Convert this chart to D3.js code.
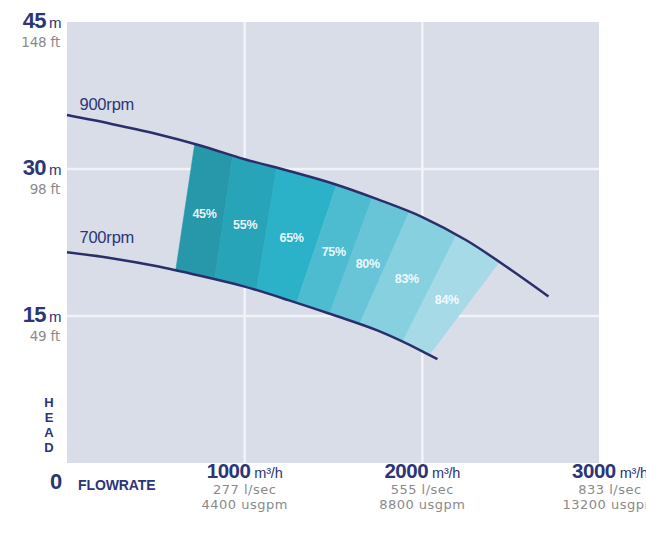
<!DOCTYPE html>
<html><head><meta charset="utf-8">
<script src="https://cdn.jsdelivr.net/npm/d3@7"></script>
<style>
html,body{margin:0;padding:0;background:#fff;}
svg{display:block;}
text{font-family:"Liberation Sans",Arial,sans-serif;}
text.sub{font-family:"DejaVu Sans","Liberation Sans",sans-serif;}
</style></head>
<body>
<svg id="chart" width="646" height="536"></svg>
<script>
// ---- data ----
const flows900 = [0, 250, 500, 750, 1000, 1250, 1500, 1750, 2000, 2250, 2500, 2710];
const heads900 = [35.5, 34.6, 33.6, 32.4, 31.0, 29.8, 28.5, 26.9, 25.1, 22.7, 19.7, 17.0];
const flows700 = [0, 250, 500, 750, 1000, 1250, 1500, 1750, 2000, 2085];
const heads700 = [21.5, 20.9, 20.1, 19.1, 18.0, 16.6, 15.1, 13.5, 11.4, 10.6];
const curveNames = ["900rpm", "700rpm"];
// efficiency zone boundaries: flow where each boundary meets the 900rpm (top) and 700rpm (bottom) curve
const zoneTopFlow = [719, 933, 1180, 1517, 1719, 1927, 2191, 2433];
const zoneBottomFlow = [612, 831, 1067, 1292, 1478, 1646, 1888, 2039];
const zoneLabels = ["45%", "55%", "65%", "75%", "80%", "83%", "84%"];
const zoneColors = ["#2797aa", "#28a4b9", "#2bb1c8", "#4dbcd1", "#68c5d7", "#86d0df", "#a5dae6"];
const headTicks = [45, 30, 15];
const headFeet = ["148 ft", "98 ft", "49 ft"];
const flowTicks = [1000, 2000, 3000];
const flowLps = ["277 l/sec", "555 l/sec", "833 l/sec"];
const flowGpm = ["4400 usgpm", "8800 usgpm", "13200 usgpm"];

// ---- layout ----
const svg = d3.select("#chart");
const x = d3.scaleLinear().domain([0, 3000]).range([67, 600]);
const y = d3.scaleLinear().domain([0, 45]).range([463, 22]);
const navy = "#2b3577", grey = "#8a8a8a", lineCol = "#2a2f6b";

svg.append("rect").attr("x", x(0)).attr("y", y(45)).attr("width", x(3000) - x(0) - 1)
  .attr("height", y(0) - y(45)).attr("fill", "#d9dde8");

// gridlines
svg.append("g").selectAll("line").data([15, 30]).join("line")
  .attr("x1", x(0)).attr("x2", x(3000) - 1).attr("y1", d => y(d)).attr("y2", d => y(d))
  .attr("stroke", "#f1f3f7").attr("stroke-width", 2.5);
svg.append("g").selectAll("line").data([1000, 2000]).join("line")
  .attr("x1", d => x(d)).attr("x2", d => x(d)).attr("y1", y(45)).attr("y2", y(0))
  .attr("stroke", "#f1f3f7").attr("stroke-width", 2.5);

// interpolators along curves
const h900 = d3.scaleLinear().domain(flows900).range(heads900);
const h700 = d3.scaleLinear().domain(flows700).range(heads700);

function sampleRange(a, b, n) { return d3.range(n + 1).map(i => a + (b - a) * i / n); }

// efficiency zones
const zones = zoneLabels.map((lab, i) => {
  const top = sampleRange(zoneTopFlow[i], zoneTopFlow[i + 1], 12).map(f => [x(f), y(h900(f))]);
  const bot = sampleRange(zoneBottomFlow[i + 1], zoneBottomFlow[i], 12).map(f => [x(f), y(h700(f))]);
  return { lab, color: zoneColors[i], pts: top.concat(bot), i };
});
svg.append("g").selectAll("path").data(zones).join("path")
  .attr("d", d => "M" + d.pts.map(p => p.join(",")).join("L") + "Z")
  .attr("fill", d => d.color).attr("stroke", d => d.color).attr("stroke-width", 0.6);

svg.append("g").selectAll("text").data(zones).join("text")
  .attr("x", d => {
    const ft = (zoneTopFlow[d.i] + zoneTopFlow[d.i + 1]) / 2, fb = (zoneBottomFlow[d.i] + zoneBottomFlow[d.i + 1]) / 2;
    return (x(ft) + x(fb)) / 2;
  })
  .attr("y", d => {
    const ft = (zoneTopFlow[d.i] + zoneTopFlow[d.i + 1]) / 2, fb = (zoneBottomFlow[d.i] + zoneBottomFlow[d.i + 1]) / 2;
    return (y(h900(ft)) + y(h700(fb))) / 2 + 6;
  })
  .attr("text-anchor", "middle").attr("fill", "#ffffff").attr("fill-opacity", 0.9)
  .attr("font-size", 12.5).attr("font-weight", "bold").attr("letter-spacing", -0.3)
  .text(d => d.lab);

// pump curves
const line = d3.line().x(d => x(d[0])).y(d => y(d[1])).curve(d3.curveMonotoneX);
svg.append("path").datum(flows900.map((f, i) => [f, heads900[i]])).attr("d", line)
  .attr("fill", "none").attr("stroke", lineCol).attr("stroke-width", 2.5);
svg.append("path").datum(flows700.map((f, i) => [f, heads700[i]])).attr("d", line)
  .attr("fill", "none").attr("stroke", lineCol).attr("stroke-width", 2.5);

// curve names
svg.append("text").attr("x", x(70)).attr("y", y(h900(0)) - 5).attr("fill", navy)
  .attr("font-size", 16.5).attr("letter-spacing", -0.2).text(curveNames[0]);
svg.append("text").attr("x", x(70)).attr("y", y(h700(0)) - 9).attr("fill", navy)
  .attr("font-size", 16.5).attr("letter-spacing", -0.2).text(curveNames[1]);

// y axis labels
const yl = svg.append("g");
headTicks.forEach((t, i) => {
  const tx = yl.append("text").attr("x", 61).attr("y", y(t) + 6).attr("text-anchor", "end").attr("fill", navy);
  tx.append("tspan").attr("font-size", 22).attr("font-weight", "bold").attr("letter-spacing", -0.6).text(t);
  tx.append("tspan").attr("font-size", 15).attr("dx", 3).attr("letter-spacing", -0.5).text("m");
  yl.append("text").attr("class", "sub").attr("x", 60).attr("y", y(t) + 25).attr("text-anchor", "end").attr("fill", grey)
    .attr("font-size", 13.5).attr("letter-spacing", -0.2).text(headFeet[i]);
});
svg.append("text").attr("x", 56).attr("y", 489).attr("text-anchor", "middle").attr("fill", navy)
  .attr("font-size", 22).attr("font-weight", "bold").text("0");
svg.append("g").selectAll("text").data(["H", "E", "A", "D"]).join("text")
  .attr("x", 49).attr("y", (d, i) => 407 + i * 15).attr("text-anchor", "middle")
  .attr("fill", navy).attr("font-size", 13).attr("font-weight", "bold").text(d => d);
svg.append("text").attr("x", 78).attr("y", 490).attr("fill", navy).attr("font-size", 14)
  .attr("font-weight", "bold").attr("letter-spacing", -0.1).text("FLOWRATE");

// x axis labels
const xl = svg.append("g");
flowTicks.forEach((t, i) => {
  const cx = x(t) + (i === flowTicks.length - 1 ? 10 : 0);
  const tx = xl.append("text").attr("x", cx).attr("y", 478).attr("text-anchor", "middle").attr("fill", navy);
  tx.append("tspan").attr("font-size", 20.5).attr("font-weight", "bold").attr("letter-spacing", -0.5).text(t);
  tx.append("tspan").attr("font-size", 14.5).attr("dx", 4).attr("letter-spacing", -0.2).text("m³/h");
  xl.append("text").attr("class", "sub").attr("x", cx).attr("y", 494).attr("text-anchor", "middle").attr("fill", grey)
    .attr("font-size", 13).attr("letter-spacing", 0.5).text(flowLps[i]);
  xl.append("text").attr("class", "sub").attr("x", cx).attr("y", 509).attr("text-anchor", "middle").attr("fill", grey)
    .attr("font-size", 13).attr("letter-spacing", 0.5).text(flowGpm[i]);
});
</script>
</body></html>
